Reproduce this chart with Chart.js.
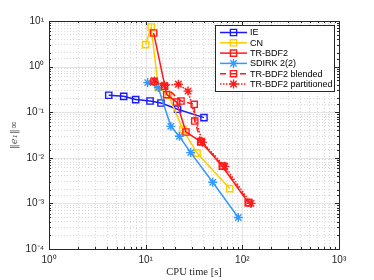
<!DOCTYPE html>
<html>
<head>
<meta charset="utf-8">
<script src="https://cdn.jsdelivr.net/npm/chart.js@4/dist/chart.umd.min.js"></script>
<style>
    html, body { margin: 0; padding: 0; background: #fff; }
</style>
</head>
<body>
<canvas id="chart" width="374" height="280"></canvas>
<script>
// values (CPU time [s] vs error)
const ieTime = [4.15, 5.93, 7.88, 11.1, 14.4, 21.4, 40.1];
const ieErr = [0.235, 0.223, 0.189, 0.176, 0.159, 0.116, 0.076];

const cnTime = [10.0, 11.4, 13.5, 17.2, 24.3, 34.0, 74.0];
const cnErr = [3.04, 7.39, 0.35, 0.235, 0.0416, 0.0127, 0.00211];

const trTime = [12.1, 16.5, 20.9, 26.1, 37.1, 62.1, 115];
const trErr = [5.46, 0.243, 0.167, 0.0368, 0.0227, 0.00652, 0.00104];

const sdirkTime = [10.5, 13.5, 18.2, 22.3, 29.2, 49.4, 90.8];
const sdirkErr = [0.446, 0.347, 0.049, 0.0296, 0.013, 0.0029, 0.00049];

const blendTime = [12.2, 15.7, 23.2, 31.8, 32.2, 37.4, 63.1, 117];
const blendErr = [0.476, 0.37, 0.176, 0.149, 0.064, 0.0227, 0.00652, 0.00104];

const partTime = [12.3, 15.6, 21.8, 27.4, 38.5, 66, 123];
const partErr = [0.48, 0.39, 0.41, 0.29, 0.022, 0.0065, 0.001];

const seriesNames = ['IE', 'CN', 'TR-BDF2', 'SDIRK 2(2)', 'TR-BDF2 blended', 'TR-BDF2 partitioned'];

const X_MIN = 1, X_MAX = 1000;
const Y_MIN = 1e-4, Y_MAX = 10;

const AXIS_COLOR = '#262626';
const MAJOR_GRID = '#e4e4e4';
const MINOR_GRID = '#dadada';

const SUP = { '0': '⁰', '1': '¹', '2': '²', '3': '³', '4': '⁴', '-': '⁻' };

function isMajor(v) {
    const l = Math.log10(v);
    return Math.abs(l - Math.round(l)) < 1e-6;
}

function powerLabel(v) {
    if (!isMajor(v)) return '';
    const e = String(Math.round(Math.log10(v)));
    return '10' + e.split('').map((c) => SUP[c]).join('');
}

function pts(xs, ys) {
    return xs.map((x, i) => ({ x, y: ys[i] }));
}

function series(i, xs, ys, color, style, dash) {
    return {
        label: seriesNames[i],
        data: pts(xs, ys),
        borderColor: color,
        backgroundColor: 'rgba(0,0,0,0)',
        borderWidth: 1.5,
        borderDash: dash,
        pointStyle: style,
        pointRadius: style === 'rect' ? 4.4 : 4.5,
        pointBorderWidth: 1.4,
        pointBorderColor: color,
        pointBackgroundColor: 'rgba(0,0,0,0)',
        tension: 0,
        fill: false,
        order: 10 - i,
    };
}

// solid major grid + box with inward ticks, like the original figure
const frame = {
    id: 'frame',
    beforeDatasetsDraw(chart) {
        const { ctx, chartArea: a, scales } = chart;
        ctx.save();
        ctx.strokeStyle = MAJOR_GRID;
        ctx.lineWidth = 1;
        scales.x.ticks.forEach((t) => {
            if (!isMajor(t.value)) return;
            const px = Math.round(scales.x.getPixelForValue(t.value)) + 0.5;
            ctx.beginPath(); ctx.moveTo(px, a.top); ctx.lineTo(px, a.bottom); ctx.stroke();
        });
        scales.y.ticks.forEach((t) => {
            if (!isMajor(t.value)) return;
            const py = Math.round(scales.y.getPixelForValue(t.value)) + 0.5;
            ctx.beginPath(); ctx.moveTo(a.left, py); ctx.lineTo(a.right, py); ctx.stroke();
        });
        ctx.restore();
    },
    afterDatasetsDraw(chart) {
        const { ctx, chartArea: a, scales } = chart;
        ctx.save();
        ctx.strokeStyle = AXIS_COLOR;
        ctx.lineWidth = 1;
        ctx.beginPath();
        scales.x.ticks.forEach((t) => {
            const len = isMajor(t.value) ? 4 : 2;
            const px = Math.round(scales.x.getPixelForValue(t.value)) + 0.5;
            ctx.moveTo(px, a.bottom); ctx.lineTo(px, a.bottom - len);
            ctx.moveTo(px, a.top); ctx.lineTo(px, a.top + len);
        });
        scales.y.ticks.forEach((t) => {
            const len = isMajor(t.value) ? 4 : 2;
            const py = Math.round(scales.y.getPixelForValue(t.value)) + 0.5;
            ctx.moveTo(a.left, py); ctx.lineTo(a.left + len, py);
            ctx.moveTo(a.right, py); ctx.lineTo(a.right - len, py);
        });
        ctx.stroke();
        ctx.strokeRect(Math.round(a.left) + 0.5, Math.round(a.top) + 0.5,
            Math.round(a.right - a.left), Math.round(a.bottom - a.top));
        ctx.restore();
    },
};

// legend box in the upper right corner of the axes
const boxLegend = {
    id: 'boxLegend',
    afterDraw(chart) {
        const { ctx } = chart;
        const x0 = 215, y0 = 25, w = 119, h = 66;
        const rowH = 10.3;
        ctx.save();
        ctx.fillStyle = '#fff';
        ctx.fillRect(x0, y0, w, h);
        ctx.strokeStyle = AXIS_COLOR;
        ctx.lineWidth = 1;
        ctx.strokeRect(x0 + 0.5, y0 + 0.5, w, h);
        ctx.font = '9px "Liberation Sans", Arial, sans-serif';
        ctx.textBaseline = 'middle';
        chart.data.datasets.forEach((ds, i) => {
            const y = y0 + 7.5 + i * rowH;
            ctx.strokeStyle = ds.borderColor;
            ctx.lineWidth = ds.borderWidth;
            ctx.setLineDash(ds.borderDash || []);
            ctx.beginPath(); ctx.moveTo(x0 + 5, y); ctx.lineTo(x0 + 32, y); ctx.stroke();
            ctx.setLineDash([]);
            ctx.lineWidth = ds.pointBorderWidth;
            ctx.fillStyle = 'rgba(0,0,0,0)';
            Chart.helpers.drawPoint(ctx, {
                pointStyle: ds.pointStyle, radius: ds.pointRadius, rotation: 0,
                borderWidth: ds.pointBorderWidth,
            }, x0 + 18.5, y);
            ctx.fillStyle = '#000';
            ctx.fillText(ds.label, x0 + 35, y + 0.5);
        });
        ctx.restore();
    },
};

new Chart(document.getElementById('chart'), {
    type: 'line',
    data: {
        datasets: [
            series(0, ieTime, ieErr, '#1a1aff', 'rect', []),
            series(1, cnTime, cnErr, '#ffcc00', 'rect', []),
            series(2, trTime, trErr, '#ff1a1a', 'rect', []),
            series(3, sdirkTime, sdirkErr, '#3399ff', 'star', []),
            series(4, blendTime, blendErr, '#ff1a1a', 'rect', [6, 4]),
            series(5, partTime, partErr, '#ff1a1a', 'star', [1.5, 1.5]),
        ],
    },
    plugins: [frame, boxLegend],
    options: {
        responsive: false,
        animation: false,
        layout: { padding: { left: 0, top: 21, right: 35, bottom: 0 } },
        plugins: {
            legend: { display: false },
            tooltip: { enabled: false },
        },
        scales: {
            x: {
                type: 'logarithmic',
                min: X_MIN,
                max: X_MAX,
                afterFit: (scale) => { scale.height = 31; },
                grid: {
                    drawTicks: false,
                    color: (c) => (c.tick && isMajor(c.tick.value) ? 'rgba(0,0,0,0)' : MINOR_GRID),
                },
                border: { display: false, dash: [1, 2] },
                ticks: {
                    autoSkip: false,
                    maxRotation: 0,
                    minRotation: 0,
                    padding: 5,
                    color: AXIS_COLOR,
                    font: { family: '"Liberation Sans", Arial, sans-serif', size: 10 },
                    callback: (v) => powerLabel(v),
                },
                title: {
                    display: true,
                    text: 'CPU time [s]',
                    color: AXIS_COLOR,
                    font: { family: '"Liberation Serif", "DejaVu Serif", serif', size: 10.5 },
                    padding: { top: 0, bottom: 1 },
                },
            },
            y: {
                type: 'logarithmic',
                min: Y_MIN,
                max: Y_MAX,
                afterFit: (scale) => { scale.width = 49; },
                grid: {
                    drawTicks: false,
                    color: (c) => (c.tick && isMajor(c.tick.value) ? 'rgba(0,0,0,0)' : MINOR_GRID),
                },
                border: { display: false, dash: [1, 2] },
                ticks: {
                    autoSkip: false,
                    padding: 5,
                    color: AXIS_COLOR,
                    font: { family: '"Liberation Sans", Arial, sans-serif', size: 10 },
                    callback: (v) => powerLabel(v),
                },
                title: {
                    display: true,
                    text: '‖e₁‖∞',
                    color: '#555',
                    font: { family: '"DejaVu Serif", serif', size: 10, style: 'italic' },
                    padding: { top: 8, bottom: 0 },
                },
            },
        },
    },
});
</script>
</body>
</html>
